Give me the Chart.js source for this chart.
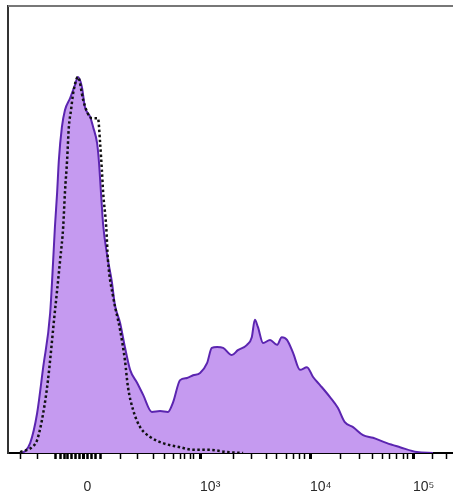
<!DOCTYPE html>
<html>
<head>
<meta charset="utf-8">
<script src="https://cdn.jsdelivr.net/npm/chart.js@4"></script>
<style>
    body { margin: 0; background: #fff; }
    #wrap { width: 453px; height: 497px; }
</style>
</head>
<body>
<div id="wrap"><canvas id="histChart" width="453" height="497"></canvas></div>
<script>
// Histogram data (x in display channels 0-1024, y in % of max)
const stainedChannels = [28, 39, 51, 67, 81, 97, 104, 108, 113, 117, 124, 131, 143, 154, 161, 170, 177, 189,
    196, 205, 209, 214, 219, 228, 239, 246, 258, 269, 281, 297, 311, 331, 350, 368, 380, 396, 412, 426, 442,
    458, 469, 481, 495, 515, 529, 550, 561, 568, 575, 587, 603, 619, 630, 642, 656, 672, 688, 702, 718, 741,
    759, 775, 794, 817, 840, 872, 902, 941, 978];
const stainedCounts = [0, 0.4, 2.2, 8.9, 19.2, 31.3, 43.2, 50.6, 58.2, 65.5, 72.9, 76.7, 79.4, 82.3, 84.1, 81.9,
    77.4, 75.2, 72.9, 69.3, 65.5, 58.2, 51.0, 44.3, 38.3, 33.1, 29.1, 23.7, 18.6, 15.7, 13.0, 9.2, 9.4, 9.2,
    11.4, 16.3, 16.8, 17.4, 17.9, 20.1, 23.5, 23.7, 23.5, 21.9, 23.0, 24.2, 25.9, 29.8, 28.2, 24.6, 25.3, 24.2,
    25.9, 25.3, 22.4, 18.6, 19.2, 17.0, 15.2, 12.5, 10.1, 6.9, 5.8, 4.0, 3.4, 2.2, 1.3, 0.2, 0];

const controlChannels = [28, 55, 67, 81, 92, 106, 120, 127, 131, 136, 140, 145, 150, 161, 173, 182, 193, 207,
    212, 216, 219, 226, 230, 242, 258, 269, 276, 288, 304, 327, 357, 396, 426, 465, 504, 541];
const controlCounts = [0.2, 1.3, 2.9, 8.9, 16.3, 29.8, 43.2, 50.6, 58.2, 65.5, 72.9, 76.7, 80.5, 84.1, 79.0,
    76.3, 74.9, 74.9, 69.3, 63.3, 58.2, 50.6, 43.2, 34.9, 27.5, 20.8, 14.8, 9.6, 5.8, 3.6, 2.2, 1.3, 0.7, 0.7,
    0.2, 0];

// Axis ticks (channels)
const majorTickChannels = [174, 442, 695, 932];
const majorTickLabels = ['0', '10³', '10⁴', '10⁵'];
const nearZeroTickChannels = [110, 120, 129, 138, 147, 156, 165, 184, 193, 202, 212];
const minorTickChannels = [28, 67, 258, 297, 334, 361, 380, 396, 407, 419, 428, 518, 561, 594, 619, 640, 656,
    670, 683, 766, 808, 838, 861, 879, 895, 909, 920, 976, 1010];

function toPoints(xs, ys) {
    return xs.map((x, i) => ({ x: x, y: ys[i] }));
}

// Top frame line
const topFrame = {
    id: 'topFrame',
    afterDraw(chart) {
        const { ctx, chartArea } = chart;
        ctx.save();
        ctx.strokeStyle = '#777';
        ctx.lineWidth = 2;
        ctx.beginPath();
        ctx.moveTo(chartArea.left, chartArea.top);
        ctx.lineTo(chartArea.right, chartArea.top);
        ctx.stroke();
        ctx.restore();
    }
};

// Keep the axes from reserving extra room for labels
function noPadding(scale) {
    scale.paddingLeft = 0;
    scale.paddingRight = 0;
    scale.paddingTop = 0;
    scale.paddingBottom = 0;
}

function tickWidthFor(c) {
    if (!c.tick) return 1.5;
    if (majorTickChannels.includes(c.tick.value)) return 3;
    if (nearZeroTickChannels.includes(c.tick.value)) return 2.5;
    return 1.5;
}

function initHistogram() {
    const ctx = document.getElementById('histChart');

    new Chart(ctx, {
        type: 'line',
        data: {
            datasets: [
                {
                    label: 'Isotype control',
                    data: toPoints(controlChannels, controlCounts),
                    borderColor: '#111',
                    borderWidth: 2.5,
                    borderDash: [2.5, 2.5],
                    fill: false,
                    pointRadius: 0,
                    cubicInterpolationMode: 'monotone',
                    order: 0
                },
                {
                    label: 'Stained',
                    data: toPoints(stainedChannels, stainedCounts),
                    borderColor: '#5b25b0',
                    backgroundColor: '#c59af0',
                    borderWidth: 2,
                    fill: 'origin',
                    pointRadius: 0,
                    cubicInterpolationMode: 'monotone',
                    order: 1
                }
            ]
        },
        options: {
            responsive: false,
            animation: false,
            layout: {
                padding: { left: 8, top: 6, right: 0, bottom: 0 }
            },
            plugins: {
                legend: { display: false },
                tooltip: { enabled: false }
            },
            scales: {
                x: {
                    type: 'linear',
                    min: 0,
                    max: 1024,
                    z: 1,
                    afterBuildTicks: function(scale) {
                        const all = majorTickChannels.concat(nearZeroTickChannels, minorTickChannels)
                            .sort((a, b) => a - b);
                        scale.ticks = all.map(v => ({ value: v }));
                    },
                    afterFit: function(scale) {
                        scale.height = 44;
                        noPadding(scale);
                    },
                    ticks: {
                        autoSkip: false,
                        maxRotation: 0,
                        minRotation: 0,
                        align: 'start',
                        padding: 20,
                        color: '#2a2a2a',
                        font: { family: "'Liberation Sans', Arial, sans-serif", size: 14 },
                        callback: function(value) {
                            const i = majorTickChannels.indexOf(value);
                            return i >= 0 ? majorTickLabels[i] : '';
                        }
                    },
                    grid: {
                        drawOnChartArea: false,
                        drawTicks: true,
                        tickLength: 6,
                        tickColor: '#000',
                        tickWidth: tickWidthFor
                    },
                    border: { display: true, color: '#000', width: 2 }
                },
                y: {
                    min: 0,
                    max: 100,
                    afterFit: function(scale) {
                        scale.width = 0;
                        noPadding(scale);
                    },
                    ticks: { display: false },
                    grid: { display: false, drawTicks: false },
                    border: { display: true, color: '#333', width: 2 }
                }
            }
        },
        plugins: [topFrame]
    });
}

document.addEventListener('DOMContentLoaded', initHistogram);
</script>
</body>
</html>
